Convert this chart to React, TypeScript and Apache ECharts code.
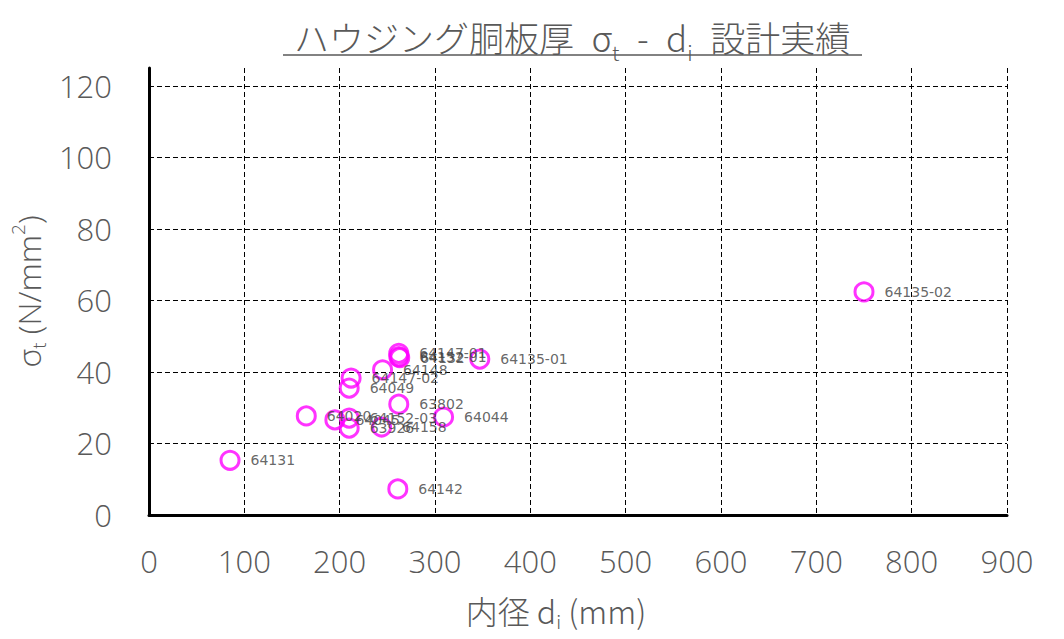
import React, { useEffect, useRef } from "react";
import * as echarts from "echarts";

const pointNames = [
  "64135-02", "64131", "64142", "64044", "63802", "64135-01",
  "64147-01", "64152-01", "64132", "64148", "64147-02", "64049",
  "64020", "64045", "64152-03", "63926", "64158",
];
const innerDiameter = [
  750, 85, 261, 309, 262, 347,
  262, 262, 263, 245, 212, 210,
  165, 195, 210, 210, 244,
];
const stress = [
  62.4, 15.3, 7.3, 27.4, 31.0, 43.6,
  45.2, 44.3, 44.0, 40.6, 38.3, 35.5,
  27.7, 26.6, 27.1, 24.3, 24.6,
];
const xMax = 900;
const xStep = 100;
const yMax = 125;
const yStep = 20;

const GRAY = "#595959";
const FONT = "'Open Sans', 'Noto Sans', 'Noto Sans CJK JP', sans-serif";
const CJK = "'Noto Sans CJK JP', 'Noto Sans', sans-serif";
const SP = "\u2002";

export default function App() {
  const ref = useRef<HTMLDivElement>(null);
  useEffect(() => {
    if (!ref.current) return;
    const chart = echarts.init(ref.current, null, { renderer: "svg" });
    const data = pointNames.map((n, i) => ({ name: n, value: [innerDiameter[i], stress[i]] }));
    chart.setOption({
      animation: false,
      backgroundColor: "#ffffff",
      grid: { left: 147, right: 57, top: 68, bottom: 124, containLabel: false },
      xAxis: {
        type: "value",
        min: 0,
        max: xMax,
        interval: xStep,
        axisLine: { show: true, onZero: false, lineStyle: { color: "#000", width: 3 } },
        axisTick: { show: false },
        axisLabel: { color: GRAY, fontSize: 31, fontFamily: FONT, fontWeight: 300, margin: 30 },
        splitLine: { show: true, showMinLine: false, lineStyle: { color: "#000", width: 1, type: [5, 3] } },
        name: "{n|内径 d}{s|i}{n| (mm)}",
        nameLocation: "middle",
        nameGap: 74,
        nameTextStyle: {
          color: GRAY,
          padding: [0, 44, 0, 0],
          rich: {
            n: { fontSize: 32, fontFamily: CJK, fontWeight: 300, color: GRAY },
            s: { fontSize: 19, fontFamily: CJK, fontWeight: 300, color: GRAY, padding: [22, 0, 0, 0] },
          },
        },
      },
      yAxis: {
        type: "value",
        min: 0,
        max: yMax,
        interval: yStep,
        axisLine: { show: true, onZero: false, lineStyle: { color: "#000", width: 3 } },
        axisTick: { show: false },
        axisLabel: { color: GRAY, fontSize: 31, fontFamily: FONT, fontWeight: 300, margin: 37, showMaxLabel: false },
        splitLine: { show: true, showMinLine: false, showMaxLine: false, lineStyle: { color: "#000", width: 1, type: [5, 3] } },
        name: "{n|σ}{s|t}{n| (N/mm}{p|2}{n|)}",
        nameLocation: "middle",
        nameRotate: 90,
        nameGap: 95,
        nameTextStyle: {
          color: GRAY,
          rich: {
            n: { fontSize: 32, fontFamily: FONT, fontWeight: 300, color: GRAY },
            s: { fontSize: 19, fontFamily: FONT, fontWeight: 300, color: GRAY, padding: [20, 0, 0, 0] },
            p: { fontSize: 19, fontFamily: FONT, fontWeight: 300, color: GRAY, padding: [0, 0, 22, 0] },
          },
        },
      },
      graphic: [
        {
          type: "text",
          x: 572,
          y: 36,
          style: {
            text: `{a|ハウジング胴板厚${SP}σ}{s|t}{a|${SP}-${SP}d}{s|i}{a|${SP}設計実績}`,
            align: "center",
            verticalAlign: "middle",
            fill: GRAY,
            rich: {
              a: { fontSize: 35, fontFamily: CJK, fontWeight: 300, fill: GRAY, color: GRAY },
              s: { fontSize: 21, fontFamily: CJK, fontWeight: 300, fill: GRAY, color: GRAY, padding: [32, 0, 0, 0] },
            },
          },
        },
        {
          type: "line",
          shape: { x1: 283, y1: 55, x2: 862, y2: 55 },
          style: { stroke: GRAY, lineWidth: 1.5 },
        },
      ],
      series: [
        {
          type: "scatter",
          data,
          symbol: "circle",
          symbolSize: 18,
          itemStyle: { color: "rgba(0,0,0,0)", borderColor: "#FF00FF", borderWidth: 3 },
          label: {
            show: true,
            position: "right",
            distance: 10,
            formatter: (p: any) => p.name,
            color: "#404040",
            fontSize: 14,
            fontFamily: "'DejaVu Sans', sans-serif",
          },
          emphasis: { disabled: true },
        },
      ],
    });
    return () => chart.dispose();
  }, []);
  return <div ref={ref} style={{ position: "fixed", left: 0, top: 0, width: 1064, height: 639 }} />;
}
